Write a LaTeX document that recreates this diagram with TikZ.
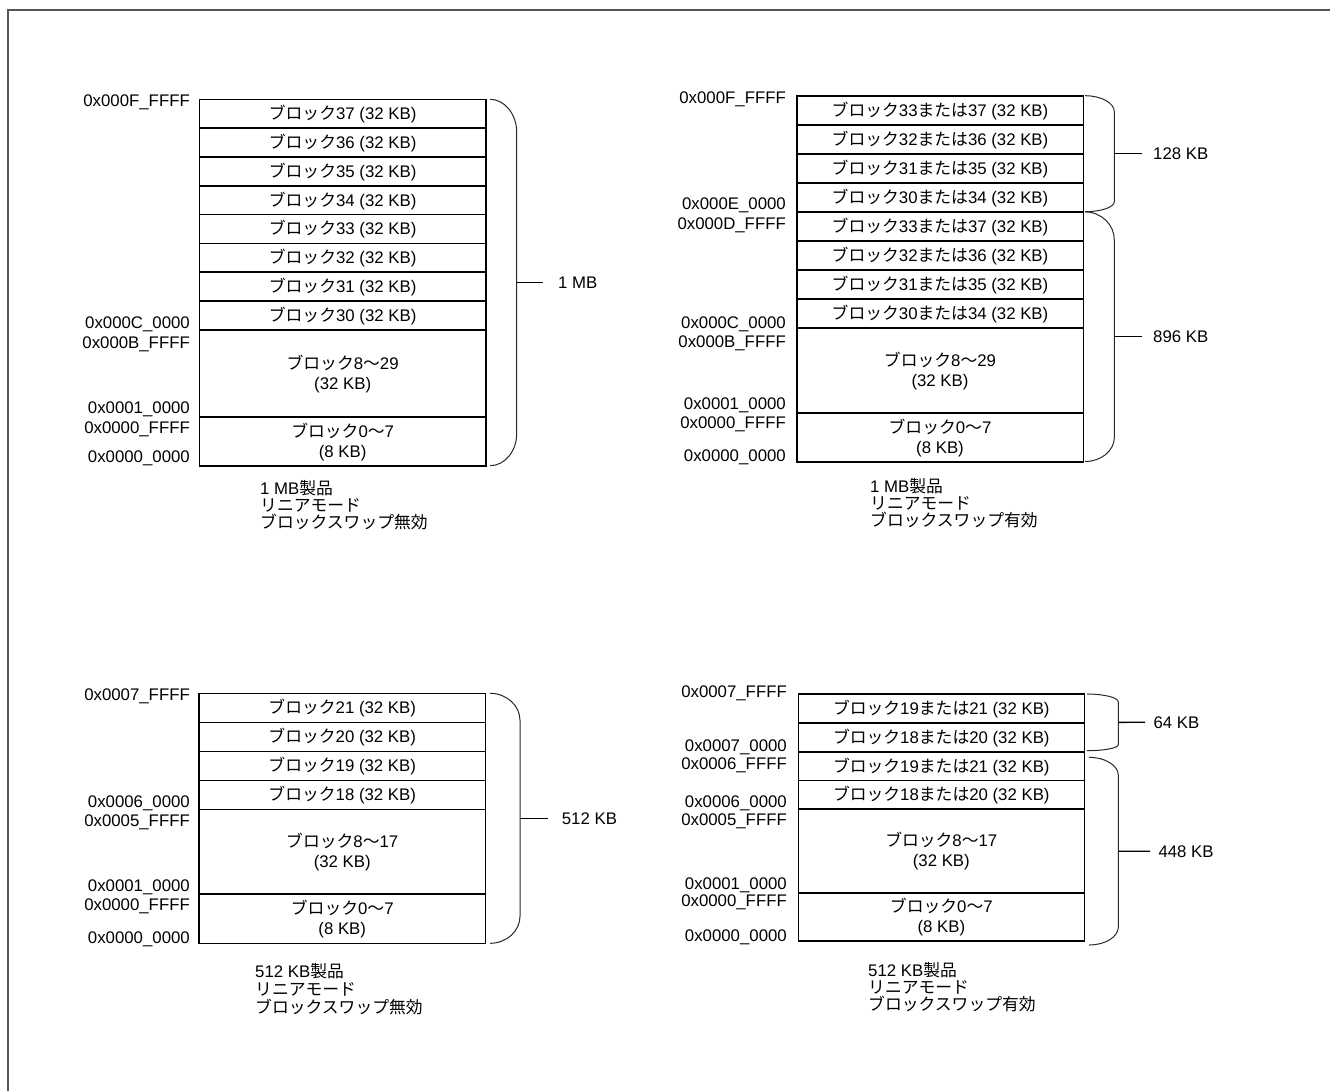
\documentclass[tikz,border=0pt]{standalone}
\usepackage{fontspec}
\setmainfont{Liberation Sans}
\newfontfamily\jpf{Noto Sans CJK JP}
\newcommand{\jp}[1]{{\jpf #1}}
\definecolor{framegray}{RGB}{85,85,85}
\definecolor{bracegray}{RGB}{40,40,40}
\tikzset{
  memcell/.style={draw=black, line width=1.6pt, inner sep=0pt, align=center,
    text height=12pt, text depth=0pt,
    font=\fontsize{16.8}{20}\selectfont},
  twoline/.style={text height=32pt, text depth=0pt},
  addr/.style={inner sep=0pt, anchor=east, text height=12pt, text depth=0pt,
    font=\fontsize{16.8}{20}\selectfont},
  sizelabel/.style={inner sep=0pt, anchor=west, text height=12pt, text depth=0pt,
    font=\fontsize{16.8}{20}\selectfont},
  capline/.style={inner sep=0pt, anchor=west, text height=12pt, text depth=0pt,
    font=\fontsize{16.8}{20}\selectfont},
  bracel/.style={draw=bracegray, line width=1pt},
  tickl/.style={draw=black, line width=1.3pt},
  framel/.style={draw=framegray, line width=2pt}
}
\newcommand{\memcellrow}[7][]{%
  \node[memcell, #1, minimum width={(#4)-(#3)}, minimum height={(#6)-(#5)}]
    (#2) at ({((#3)+(#4))/2},{((#5)+(#6))/2}) {#7};}
\newcommand{\membrace}[7]{%
  \pgfmathsetmacro{\bxa}{#2+0.55*(#3-#2)}%
  \pgfmathsetmacro{\byt}{#4+#5}%
  \pgfmathsetmacro{\bytc}{#4+0.45*#5}%
  \pgfmathsetmacro{\byb}{#6-#7}%
  \pgfmathsetmacro{\bybc}{#6-0.45*#7}%
  \pgfmathsetmacro{\bym}{(#4+#6)/2}%
  \draw[bracel] (#2,#4) .. controls (\bxa,#4) and (#3,\bytc) .. (#3,\byt)
     -- (#3,\byb) .. controls (#3,\bybc) and (\bxa,#6) .. (#2,#6);
  \coordinate (#1) at (#3,\bym);}
\begin{document}
\begin{tikzpicture}[x=1pt,y=-1pt]
\useasboundingbox (0,0) rectangle (1330,1090);
\draw[framel] (8,1092) -- (8,10) -- (1332,10);

% ---------------- top left ----------------
\memcellrow{tl37}{199.3}{486}{99.3}{128.1}{\jp{ブロック}37 (32 KB)}
\memcellrow{tl36}{199.3}{486}{128.1}{156.9}{\jp{ブロック}36 (32 KB)}
\memcellrow{tl35}{199.3}{486}{156.9}{185.7}{\jp{ブロック}35 (32 KB)}
\memcellrow{tl34}{199.3}{486}{185.7}{214.5}{\jp{ブロック}34 (32 KB)}
\memcellrow{tl33}{199.3}{486}{214.5}{243.3}{\jp{ブロック}33 (32 KB)}
\memcellrow{tl32}{199.3}{486}{243.3}{272.1}{\jp{ブロック}32 (32 KB)}
\memcellrow{tl31}{199.3}{486}{272.1}{300.9}{\jp{ブロック}31 (32 KB)}
\memcellrow{tl30}{199.3}{486}{300.9}{329.7}{\jp{ブロック}30 (32 KB)}
\memcellrow[twoline]{tl8}{199.3}{486}{329.7}{416.7}{\jp{ブロック}8\jp{～}29\\(32 KB)}
\memcellrow[twoline]{tl0}{199.3}{486}{416.7}{465.7}{\jp{ブロック}0\jp{～}7\\(8 KB)}
\node[addr] (tla1) at (190,100.7) {0x000F\_FFFF};
\node[addr] (tla2) at (190,322) {0x000C\_0000};
\node[addr] (tla3) at (190,342) {0x000B\_FFFF};
\node[addr] (tla4) at (190,407.5) {0x0001\_0000};
\node[addr] (tla5) at (190,427.5) {0x0000\_FFFF};
\node[addr] (tla6) at (190,456) {0x0000\_0000};
\membrace{tlb}{490}{516.7}{99.3}{33}{465.7}{32}
\node[sizelabel] (tlbl) at (558,282.5) {1 MB};
\draw[tickl, shorten >=15pt] (tlb) -- (tlbl.west);
\node[capline] (tlc1) at (260,488.3) {1 MB\jp{製品}};
\node[capline] (tlc2) at (260,505.5) {\jp{リニアモード}};
\node[capline] (tlc3) at (260,522.5) {\jp{ブロックスワップ無効}};

% ---------------- top right ----------------
\memcellrow{tra37}{796.7}{1083.3}{95.7}{124.7}{\jp{ブロック}33\jp{または}37 (32 KB)}
\memcellrow{tra36}{796.7}{1083.3}{124.7}{153.8}{\jp{ブロック}32\jp{または}36 (32 KB)}
\memcellrow{tra35}{796.7}{1083.3}{153.8}{182.8}{\jp{ブロック}31\jp{または}35 (32 KB)}
\memcellrow{tra34}{796.7}{1083.3}{182.8}{211.9}{\jp{ブロック}30\jp{または}34 (32 KB)}
\memcellrow{trb37}{796.7}{1083.3}{211.9}{240.9}{\jp{ブロック}33\jp{または}37 (32 KB)}
\memcellrow{trb36}{796.7}{1083.3}{240.9}{270.0}{\jp{ブロック}32\jp{または}36 (32 KB)}
\memcellrow{trb35}{796.7}{1083.3}{270.0}{299.0}{\jp{ブロック}31\jp{または}35 (32 KB)}
\memcellrow{trb34}{796.7}{1083.3}{299.0}{328.0}{\jp{ブロック}30\jp{または}34 (32 KB)}
\memcellrow[twoline]{tr8}{796.7}{1083.3}{328.0}{412.7}{\jp{ブロック}8\jp{～}29\\(32 KB)}
\memcellrow[twoline]{tr0}{796.7}{1083.3}{412.7}{461.7}{\jp{ブロック}0\jp{～}7\\(8 KB)}
\node[addr] (tra1) at (786,97.3) {0x000F\_FFFF};
\node[addr] (tra2) at (786,203.3) {0x000E\_0000};
\node[addr] (tra3) at (786,223) {0x000D\_FFFF};
\node[addr] (tra4) at (786,322.3) {0x000C\_0000};
\node[addr] (tra5) at (786,341.7) {0x000B\_FFFF};
\node[addr] (tra6) at (786,403.3) {0x0001\_0000};
\node[addr] (tra7) at (786,422.7) {0x0000\_FFFF};
\node[addr] (tra8) at (786,455) {0x0000\_0000};
\membrace{trb128}{1085}{1114.3}{95.7}{16}{211.7}{10}
\node[sizelabel] (trb128l) at (1153,153.7) {128 KB};
\draw[tickl, shorten >=11.3pt] (trb128) -- (trb128l.west);
\membrace{trb896}{1085}{1114.3}{211.9}{28}{461.5}{24}
\node[sizelabel] (trb896l) at (1153,336.7) {896 KB};
\draw[tickl, shorten >=11.3pt] (trb896) -- (trb896l.west);
\node[capline] (trc1) at (870,486) {1 MB\jp{製品}};
\node[capline] (trc2) at (870,503) {\jp{リニアモード}};
\node[capline] (trc3) at (870,520) {\jp{ブロックスワップ有効}};

% ---------------- bottom left ----------------
\memcellrow{bl21}{199}{485.5}{693.3}{722.3}{\jp{ブロック}21 (32 KB)}
\memcellrow{bl20}{199}{485.5}{722.3}{751.3}{\jp{ブロック}20 (32 KB)}
\memcellrow{bl19}{199}{485.5}{751.3}{780.3}{\jp{ブロック}19 (32 KB)}
\memcellrow{bl18}{199}{485.5}{780.3}{809.3}{\jp{ブロック}18 (32 KB)}
\memcellrow[twoline]{bl8}{199}{485.5}{809.3}{894}{\jp{ブロック}8\jp{～}17\\(32 KB)}
\memcellrow[twoline]{bl0}{199}{485.5}{894}{943.3}{\jp{ブロック}0\jp{～}7\\(8 KB)}
\node[addr] (bla1) at (190,694) {0x0007\_FFFF};
\node[addr] (bla2) at (190,801.7) {0x0006\_0000};
\node[addr] (bla3) at (190,820) {0x0005\_FFFF};
\node[addr] (bla4) at (190,885.5) {0x0001\_0000};
\node[addr] (bla5) at (190,904.5) {0x0000\_FFFF};
\node[addr] (bla6) at (190,937) {0x0000\_0000};
\membrace{blb}{490}{520}{693.3}{27}{943.3}{27}
\node[sizelabel] (blbl) at (561.7,818.3) {512 KB};
\draw[tickl, shorten >=13.4pt] (blb) -- (blbl.west);
\node[capline] (blc1) at (255,971.5) {512 KB\jp{製品}};
\node[capline] (blc2) at (255,989) {\jp{リニアモード}};
\node[capline] (blc3) at (255,1007) {\jp{ブロックスワップ無効}};

% ---------------- bottom right ----------------
\memcellrow{bra21}{798.3}{1084.3}{694}{722.8}{\jp{ブロック}19\jp{または}21 (32 KB)}
\memcellrow{bra20}{798.3}{1084.3}{722.8}{751.7}{\jp{ブロック}18\jp{または}20 (32 KB)}
\memcellrow{brb21}{798.3}{1084.3}{751.7}{780.3}{\jp{ブロック}19\jp{または}21 (32 KB)}
\memcellrow{brb20}{798.3}{1084.3}{780.3}{809}{\jp{ブロック}18\jp{または}20 (32 KB)}
\memcellrow[twoline]{br8}{798.3}{1084.3}{809}{892.7}{\jp{ブロック}8\jp{～}17\\(32 KB)}
\memcellrow[twoline]{br0}{798.3}{1084.3}{892.7}{941}{\jp{ブロック}0\jp{～}7\\(8 KB)}
\node[addr] (bra1) at (787,691.7) {0x0007\_FFFF};
\node[addr] (bra2) at (787,745) {0x0007\_0000};
\node[addr] (bra3) at (787,763.3) {0x0006\_FFFF};
\node[addr] (bra4) at (787,801.7) {0x0006\_0000};
\node[addr] (bra5) at (787,819.3) {0x0005\_FFFF};
\node[addr] (bra6) at (787,883.3) {0x0001\_0000};
\node[addr] (bra7) at (787,900.5) {0x0000\_FFFF};
\node[addr] (bra8) at (787,935) {0x0000\_0000};
\membrace{brb64}{1087}{1118.3}{694}{8}{750.7}{6}
\node[sizelabel] (brb64l) at (1153.3,722.3) {64 KB};
\draw[tickl, shorten >=8.3pt] (brb64) -- (brb64l.west);
\membrace{brb448}{1089}{1118.3}{757.3}{18}{945}{18}
\node[sizelabel] (brb448l) at (1158.3,851.2) {448 KB};
\draw[tickl, shorten >=8.3pt] (brb448) -- (brb448l.west);
\node[capline] (brc1) at (868,970.5) {512 KB\jp{製品}};
\node[capline] (brc2) at (868,987.5) {\jp{リニアモード}};
\node[capline] (brc3) at (868,1004.5) {\jp{ブロックスワップ有効}};
\end{tikzpicture}
\end{document}
